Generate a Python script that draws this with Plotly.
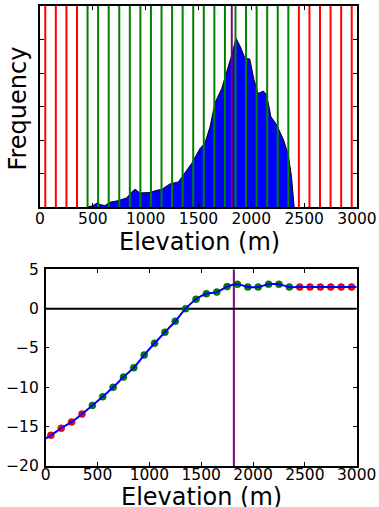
import plotly.graph_objects as go

# ---- data ----
hist_elev = [450, 500, 540, 575, 615, 660, 740, 820, 865, 900, 945, 1040, 1105, 1150,
             1230, 1310, 1340, 1435, 1515, 1560, 1610, 1655, 1720, 1765, 1815, 1855,
             1895, 1940, 1985, 2025, 2065, 2115, 2145, 2185, 2240, 2305, 2350, 2380, 2405]
hist_freq = [0, 0.04, 0.12, 0.07, 0.04, 0.14, 0.19, 0.27, 0.44, 0.53, 0.42, 0.43, 0.50, 0.52,
             0.69, 0.75, 0.88, 1.30, 1.75, 1.90, 2.40, 3.10, 3.54, 3.99, 4.54, 5.04,
             4.79, 4.44, 4.42, 3.79, 3.39, 3.46, 3.34, 2.70, 2.45, 2.00, 1.55, 0.90, 0]

red_bins_low = [50, 150, 250, 350]
green_bins = [450, 550, 650, 750, 850, 950, 1050, 1150, 1250, 1350, 1450, 1550, 1650,
              1750, 1850, 1950, 2050, 2150, 2250, 2350]
red_bins_high = [2450, 2550, 2650, 2750, 2850, 2950]
median_elev = 1815

red_vals_low = [-16.1, -15.2, -14.4, -13.4]
green_vals = [-12.3, -11.2, -10.0, -8.7, -7.5, -5.9, -4.4, -3.0, -1.6, 0.0, 1.2, 1.9,
              2.1, 2.8, 3.1, 2.75, 2.75, 3.1, 3.1, 2.75]
red_vals_high = [2.75, 2.75, 2.75, 2.75, 2.75, 2.75]

curve_x = [0] + red_bins_low + green_bins + red_bins_high + [3000]
curve_y = [-16.5] + red_vals_low + green_vals + red_vals_high + [2.75]

x_ticks = [0, 500, 1000, 1500, 2000, 2500, 3000]
y2_ticks = [5, 0, -5, -10, -15, -20]

RED = "#ff0000"
GREEN = "#008000"
PURPLE = "#800080"
BLUE = "#0000ff"
FONT = "DejaVu Sans"

def vlines(xs, y0, y1):
    X, Y = [], []
    for x in xs:
        X += [x, x, None]
        Y += [y0, y1, None]
    return X, Y

fig = go.Figure()

# top: histogram profile
fig.add_trace(go.Scatter(x=hist_elev, y=hist_freq, mode="lines", fill="tozeroy",
                         fillcolor=BLUE, line=dict(color="black", width=1),
                         xaxis="x", yaxis="y", showlegend=False, hoverinfo="skip"))
for xs, col in [(red_bins_low, RED), (green_bins, GREEN), (red_bins_high, RED), ([median_elev], PURPLE)]:
    X, Y = vlines(xs, 0, 6)
    fig.add_trace(go.Scatter(x=X, y=Y, mode="lines", line=dict(color=col, width=2),
                             xaxis="x", yaxis="y", showlegend=False, hoverinfo="skip"))

# bottom
X, Y = vlines([median_elev], -20, 5)
fig.add_trace(go.Scatter(x=X, y=Y, mode="lines", line=dict(color=PURPLE, width=2),
                         xaxis="x2", yaxis="y2", showlegend=False))
fig.add_trace(go.Scatter(x=[0, 3000], y=[0, 0], mode="lines", line=dict(color="black", width=2),
                         xaxis="x2", yaxis="y2", showlegend=False))
fig.add_trace(go.Scatter(x=red_bins_low + red_bins_high, y=red_vals_low + red_vals_high,
                         mode="markers", marker=dict(color=RED, size=7, line=dict(color="#b00000", width=0.5)),
                         xaxis="x2", yaxis="y2", showlegend=False))
fig.add_trace(go.Scatter(x=green_bins, y=green_vals, mode="markers",
                         marker=dict(color=GREEN, size=7, line=dict(color="#005000", width=0.5)),
                         xaxis="x2", yaxis="y2", showlegend=False))
fig.add_trace(go.Scatter(x=curve_x, y=curve_y, mode="lines", line=dict(color=BLUE, width=2, shape="spline"),
                         xaxis="x2", yaxis="y2", showlegend=False))

W, H = 379, 507
axcommon = dict(showline=True, linecolor="black", linewidth=1.5, mirror="ticks",
                ticks="inside", ticklen=4, tickcolor="black", showgrid=False, zeroline=False,
                automargin=False,
                tickfont=dict(family=FONT, size=15.5, color="black"))

fig.update_layout(
    width=W, height=H, autosize=False,
    margin=dict(l=0, r=0, t=0, b=0),
    paper_bgcolor="white", plot_bgcolor="white",
    xaxis=dict(domain=[40 / W, 357 / W], range=[0, 3000], tickvals=x_ticks,
               anchor="y", ticklabelstandoff=-3, **axcommon),
    yaxis=dict(domain=[1 - 207 / H, 1 - 6 / H], range=[0, 6], dtick=1,
               showticklabels=False, anchor="x", **axcommon),
    xaxis2=dict(domain=[45.7 / W, 356.7 / W], range=[0, 3000], tickvals=x_ticks,
                anchor="y2", ticklabelstandoff=-6, **axcommon),
    yaxis2=dict(domain=[1 - 466 / H, 1 - 269.3 / H], range=[-20, 5], tickvals=y2_ticks,
                anchor="x2", ticklabelstandoff=2, **axcommon),
    annotations=[
        dict(text="Frequency", x=18.3 / W, y=1 - 108.3 / H, xref="paper", yref="paper",
             textangle=-90, showarrow=False, xanchor="center", yanchor="middle",
             font=dict(family=FONT, size=24, color="black")),
        dict(text="Elevation (m)", x=199 / W, y=1 - 242 / H, xref="paper", yref="paper",
             showarrow=False, xanchor="center", yanchor="middle",
             font=dict(family=FONT, size=24, color="black")),
        dict(text="Elevation (m)", x=201 / W, y=1 - 497 / H, xref="paper", yref="paper",
             showarrow=False, xanchor="center", yanchor="middle",
             font=dict(family=FONT, size=24, color="black")),
    ],
)

fig.write_html("out.html", config={"displayModeBar": False},
               post_script=["document.body.style.margin='0px';document.body.style.overflow='hidden';"])
